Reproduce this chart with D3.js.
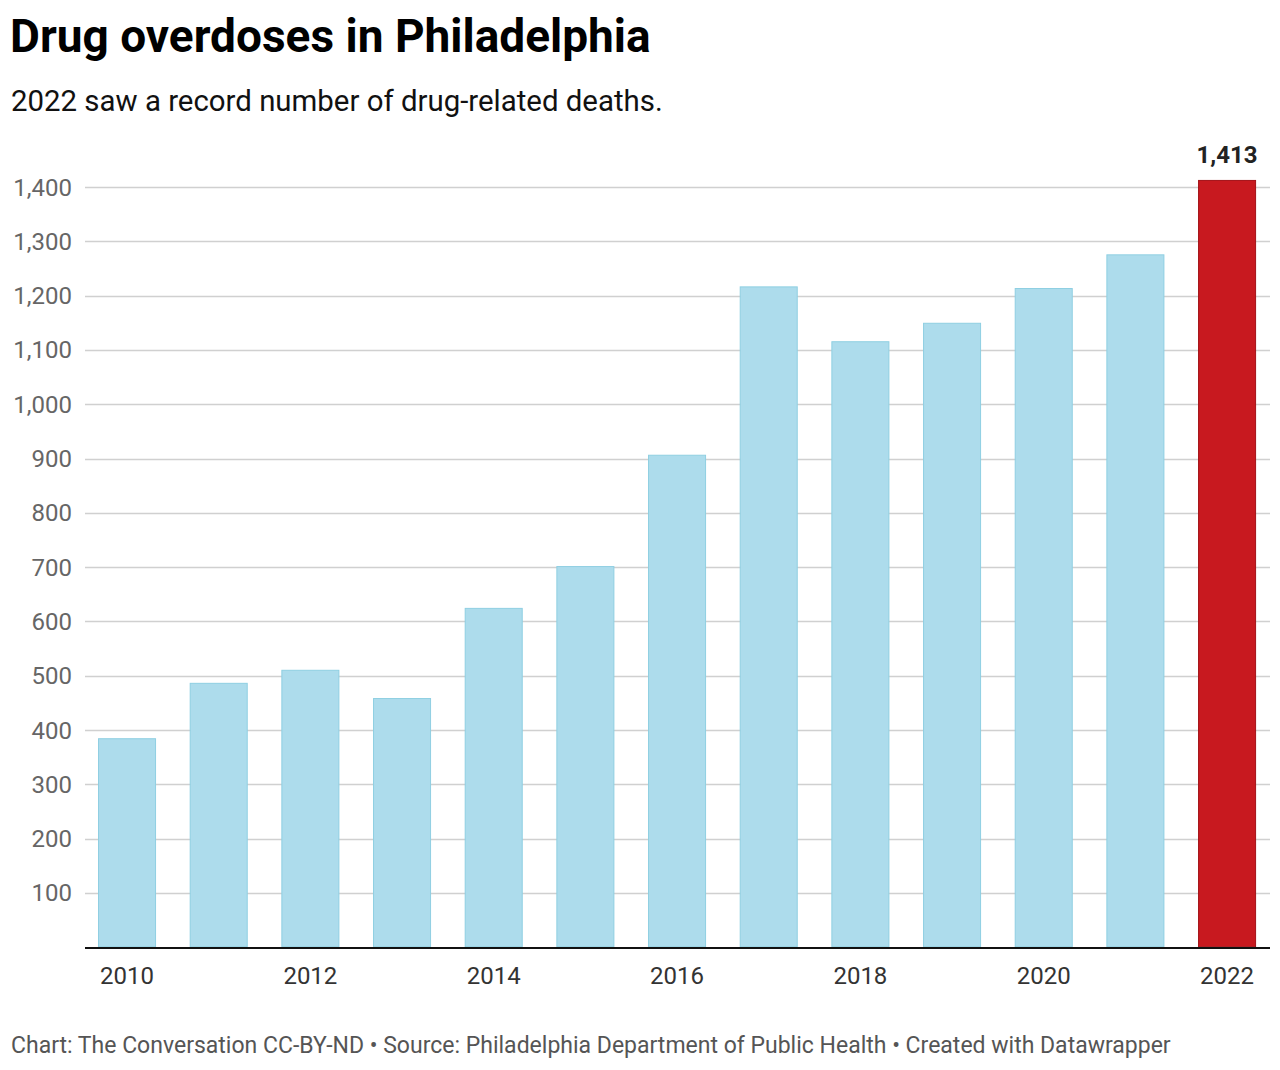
<!DOCTYPE html>
<html><head><meta charset="utf-8">
<script src="https://cdn.jsdelivr.net/npm/d3@7"></script>
<style>body{margin:0;background:#fff;}svg{display:block;font-family:Roboto,sans-serif;}</style>
</head><body>
<svg id="c" width="1280" height="1070"></svg>
<script>
const years = ["2010","2011","2012","2013","2014","2015","2016","2017","2018","2019","2020","2021","2022"];
const deaths = [385,487,511,459,625,702,907,1217,1116,1150,1214,1276,1413];
const yTicks = [100,200,300,400,500,600,700,800,900,1000,1100,1200,1300,1400];
const xTickLabels = ["2010","2012","2014","2016","2018","2020","2022"];
const highlight = "2022";

const svg = d3.select("#c");
const x = d3.scaleBand().domain(years).range([81.2, 1272.9]).paddingInner(0.367).paddingOuter(0.1835);
const y = d3.scaleLinear().domain([0, 1400]).range([947.3, 187]);
const gx0 = 85, gx1 = 1270;

svg.append("text").attr("x", 10).attr("y", 52).attr("font-size", 46).attr("font-weight", 700).attr("fill", "#000").text("Drug overdoses in Philadelphia");
svg.append("text").attr("x", 11).attr("y", 111).attr("font-size", 29.4).attr("fill", "#111").text("2022 saw a record number of drug-related deaths.");

const grid = svg.append("g");
grid.selectAll("line").data(yTicks).join("line")
  .attr("x1", gx0).attr("x2", gx1)
  .attr("y1", d => Math.round(y(d)) + 0.5).attr("y2", d => Math.round(y(d)) + 0.5)
  .attr("stroke", "#d0d0d0").attr("stroke-width", 1.5);
grid.selectAll("text").data(yTicks).join("text")
  .attr("x", 72).attr("y", d => y(d) + 8.5).attr("text-anchor", "end")
  .attr("font-size", 24).attr("fill", "#666").text(d => d3.format(",")(d));

svg.append("g").selectAll("rect").data(years).join("rect")
  .attr("x", d => x(d) + 0.5).attr("width", x.bandwidth() - 1)
  .attr("y", (d, i) => y(deaths[i]) + 0.5).attr("height", (d, i) => y(0) - y(deaths[i]) - 1)
  .attr("fill", d => d === highlight ? "#c8191f" : "#addcec")
  .attr("stroke", d => d === highlight ? "#a31217" : "#8fcfe2").attr("stroke-width", 1);

const hi = years.indexOf(highlight);
svg.append("text").attr("x", x(highlight) + x.bandwidth() / 2).attr("y", y(deaths[hi]) - 17)
  .attr("text-anchor", "middle").attr("font-size", 24).attr("font-weight", 700).attr("fill", "#222")
  .text(d3.format(",")(deaths[hi]));

svg.append("line").attr("x1", gx0).attr("x2", gx1).attr("y1", 948).attr("y2", 948).attr("stroke", "#111").attr("stroke-width", 2);

svg.append("g").selectAll("text").data(xTickLabels).join("text")
  .attr("x", d => x(d) + x.bandwidth() / 2).attr("y", 984).attr("text-anchor", "middle")
  .attr("font-size", 24).attr("fill", "#333").text(d => d);

svg.append("text").attr("x", 11).attr("y", 1053).attr("font-size", 23).attr("fill", "#555")
  .text("Chart: The Conversation CC-BY-ND \u2022 Source: Philadelphia Department of Public Health \u2022 Created with Datawrapper");
</script>
</body></html>
